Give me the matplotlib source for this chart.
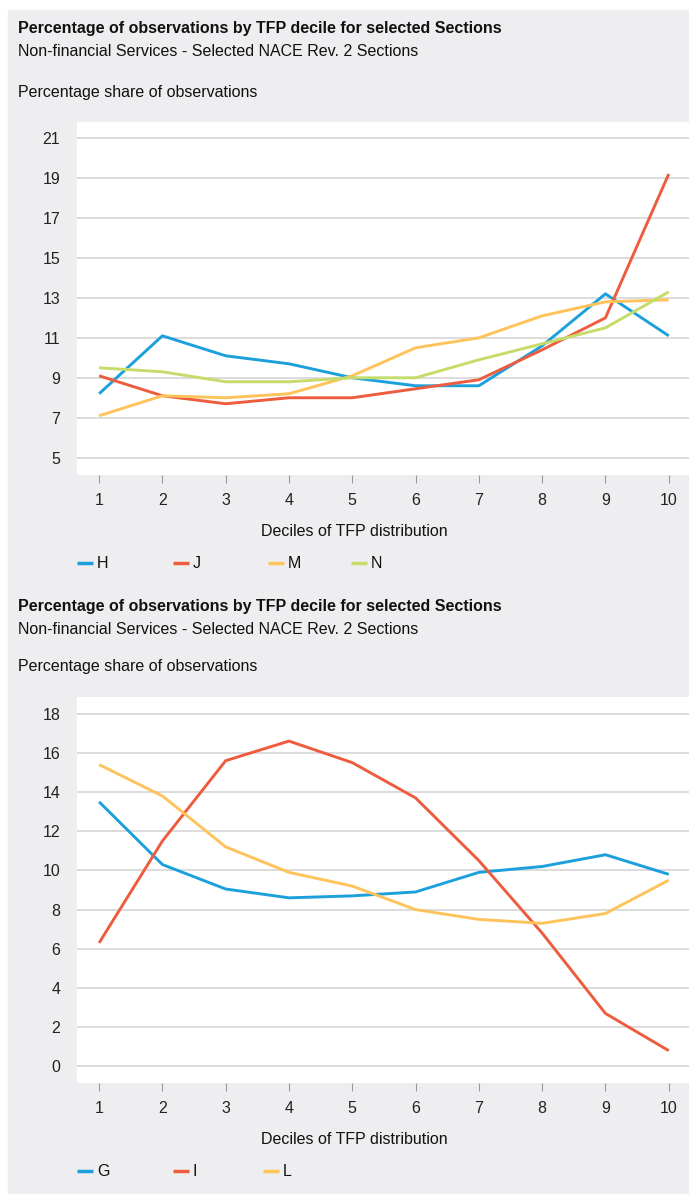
import matplotlib
matplotlib.use("Agg")
import matplotlib.pyplot as plt
from matplotlib import font_manager
from matplotlib.lines import Line2D
from matplotlib.patches import Rectangle

deciles = [1, 2, 3, 4, 5, 6, 7, 8, 9, 10]

# Top panel: sections H, J, M, N
top_labels = ["H", "J", "M", "N"]
h_vals = [8.2, 11.1, 10.1, 9.7, 9.0, 8.6, 8.6, 10.6, 13.2, 11.1]
j_vals = [9.1, 8.1, 7.7, 8.0, 8.0, 8.45, 8.9, 10.4, 12.0, 19.2]
m_vals = [7.1, 8.1, 8.0, 8.2, 9.1, 10.5, 11.0, 12.1, 12.8, 12.9]
n_vals = [9.5, 9.3, 8.8, 8.8, 9.0, 9.0, 9.9, 10.7, 11.5, 13.3]
top_yticks = [5, 7, 9, 11, 13, 15, 17, 19, 21]

# Bottom panel: sections G, I, L
bot_labels = ["G", "I", "L"]
g_vals = [13.5, 10.3, 9.05, 8.6, 8.7, 8.9, 9.9, 10.2, 10.8, 9.8]
i_vals = [6.3, 11.5, 15.6, 16.6, 15.5, 13.7, 10.5, 6.8, 2.7, 0.8]
l_vals = [15.4, 13.8, 11.2, 9.9, 9.2, 8.0, 7.5, 7.3, 7.8, 9.5]
bot_yticks = [0, 2, 4, 6, 8, 10, 12, 14, 16, 18]

title = "Percentage of observations by TFP decile for selected Sections"
subtitle = "Non-financial Services - Selected NACE Rev. 2 Sections"
ylab = "Percentage share of observations"
xlab = "Deciles of TFP distribution"

BLUE = "#1ca0dc"
RED = "#ee5c3f"
YELLOW = "#fec35a"
GREEN = "#c6dc6a"
PANEL = "#eeeef0"
GRID = "#d9d9d9"

available = {f.name for f in font_manager.fontManager.ttflist}
if "Liberation Sans Narrow" in available:
    FONT = "Liberation Sans Narrow"
    FS = 14.0
else:
    FONT = "Liberation Sans"
    FS = 11.5
plt.rcParams["font.family"] = [FONT, "DejaVu Sans"]

W, H = 689, 1194
fig = plt.figure(figsize=(W / 100, H / 100), dpi=100, facecolor="white")


def fx(x):
    return x / W


def fy(y):
    return 1 - y / H


fig.add_artist(Rectangle((fx(8), fy(H)), fx(W - 8), (H - 10) / H,
                         transform=fig.transFigure, color=PANEL, zorder=0))


def panel(top, bottom, series, colors, labels, yticks, ylim, text_y, legend_x):
    ax = fig.add_axes([fx(77), fy(bottom), fx(689 - 77), (bottom - top) / H])
    ax.set_facecolor("white")
    for vals, c in zip(series, colors):
        ax.plot(deciles, vals, color=c, linewidth=2.1, solid_capstyle="butt", zorder=3)
    ax.set_xlim(0.651, 10.32)
    ax.set_ylim(*ylim)
    ax.set_yticks(yticks)
    ax.set_xticks(deciles)
    ax.grid(axis="y", color=GRID, linewidth=1.3)
    ax.set_axisbelow(True)
    for s in ax.spines.values():
        s.set_visible(False)
    ax.tick_params(axis="y", length=0, pad=12, labelsize=FS, labelcolor="#222222")
    ax.tick_params(axis="x", length=6, width=0.8, color="#9a9a9a", pad=7,
                   labelsize=FS, labelcolor="#222222")

    t_title, t_sub, t_ylab, t_xlab, t_leg = text_y
    fig.text(fx(18), fy(t_title), title, fontsize=FS, fontweight="bold",
             va="center", ha="left", color="#111111")
    fig.text(fx(18), fy(t_sub), subtitle, fontsize=FS, va="center", ha="left", color="#111111")
    fig.text(fx(18), fy(t_ylab), ylab, fontsize=FS, va="center", ha="left", color="#111111")
    fig.text(fx(354), fy(t_xlab), xlab, fontsize=FS, va="center", ha="center", color="#111111")

    for lx, c, lab in zip(legend_x, colors, labels):
        fig.add_artist(Line2D([fx(lx), fx(lx + 16)], [fy(t_leg), fy(t_leg)],
                              transform=fig.transFigure, color=c, linewidth=2.5,
                              solid_capstyle="butt"))
        fig.text(fx(lx + 20), fy(t_leg), lab, fontsize=FS, va="center", ha="left",
                 color="#111111")
    return ax


panel(122, 475, [h_vals, j_vals, m_vals, n_vals], [BLUE, RED, YELLOW, GREEN],
      top_labels, top_yticks, (4.135, 21.8), (28, 51, 92, 531, 563), [77, 173, 268, 351])

panel(697, 1083, [g_vals, i_vals, l_vals], [BLUE, RED, YELLOW],
      bot_labels, bot_yticks, (-0.85, 18.85), (606, 630, 667, 1139, 1171), [77, 173, 263])

fig.savefig("out.png", dpi=100, facecolor="white")
